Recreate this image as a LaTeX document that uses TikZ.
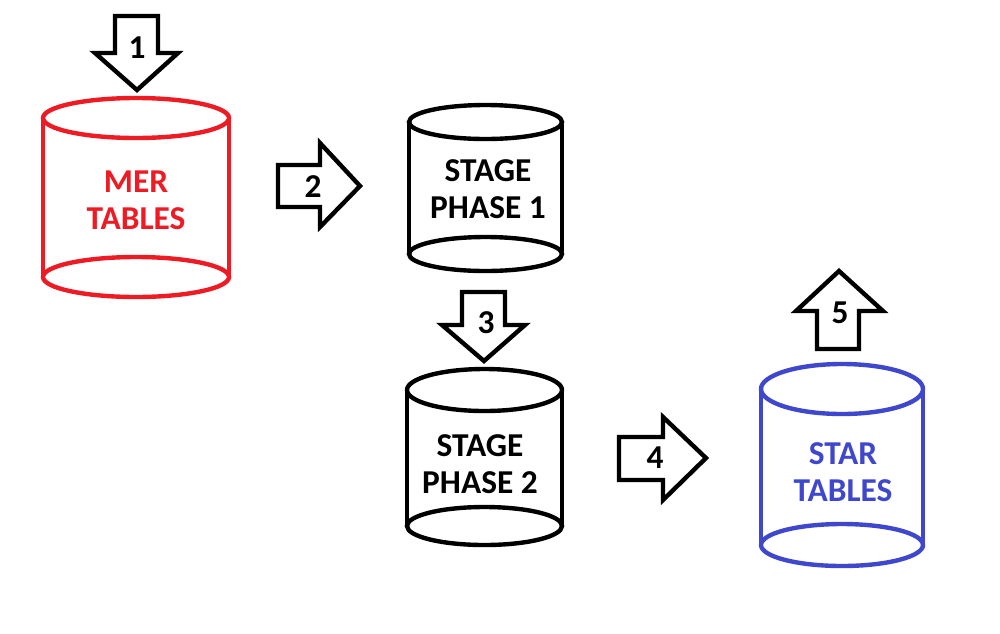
\documentclass[tikz,border=0pt]{standalone}
\usepackage{fontspec}
\setmainfont{Carlito}
\definecolor{merred}{RGB}{237,28,36}
\definecolor{starblue}{RGB}{63,72,204}
\begin{document}
\begin{tikzpicture}[x=0.02cm, y=-0.02cm, line width=2.5pt, line join=miter,
    every node/.style={font=\bfseries\fontsize{19}{21}\selectfont, align=center}]
    \useasboundingbox (0,0) rectangle (1000,633);

    % MER tables
    \draw[merred] (136,118) ellipse (93 and 20);
    \draw[merred] (136,277) ellipse (93 and 20);
    \draw[merred] (43,118) -- (43,277);
    \draw[merred] (229,118) -- (229,277);
    \node[text=merred] (mer) at (136,200) {MER\\ TABLES};

    % stage phase 1
    \draw (485.5,122) ellipse (76.5 and 17);
    \draw (485.5,254) ellipse (76.5 and 17);
    \draw (409,122) -- (409,254);
    \draw (562,122) -- (562,254);
    \node (stageone) at (488,189) {STAGE\\ PHASE 1};

    % stage phase 2
    \draw (484.5,390) ellipse (77.5 and 21);
    \draw (484.5,526) ellipse (77.5 and 19);
    \draw (407,390) -- (407,526);
    \draw (562,390) -- (562,526);
    \node (stagetwo) at (480,464) {STAGE\\ PHASE 2};

    % star tables
    \draw[starblue] (842,389) ellipse (81 and 25);
    \draw[starblue] (842,545) ellipse (81 and 21);
    \draw[starblue] (761,389) -- (761,545);
    \draw[starblue] (923,389) -- (923,545);
    \node[text=starblue] (star) at (843,472) {STAR\\ TABLES};

    % numbered block arrows
    \draw (115,16) -- (158,16) -- (158,53) -- (178,53) -- (137,90) -- (95,53) -- (115,53) -- cycle;
    \node (s1) at (137,48) {1};
    \draw (278,165) -- (320,165) -- (320,143) -- (360,186) -- (320,227) -- (320,207) -- (278,207) -- cycle;
    \node (s2) at (313,187) {2};
    \draw (462,292) -- (505,292) -- (505,325) -- (525,325) -- (484,361) -- (442,325) -- (462,325) -- cycle;
    \node (s3) at (486,323) {3};
    \draw (619,437) -- (663,437) -- (663,417) -- (706,458) -- (663,500) -- (663,480) -- (619,480) -- cycle;
    \node (s4) at (655,458) {4};
    \draw (817,349) -- (859,349) -- (859,311) -- (883,311) -- (839,271) -- (796,311) -- (817,311) -- cycle;
    \node (s5) at (840,313) {5};
\end{tikzpicture}
\end{document}
